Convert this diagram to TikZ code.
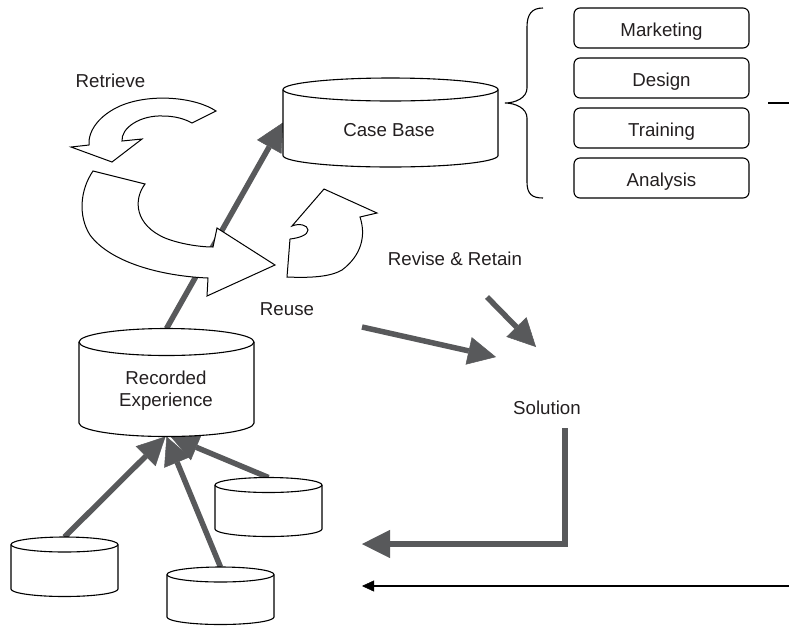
\documentclass[tikz,border=0pt]{standalone}
\usepackage{fontspec}
\setmainfont{Liberation Sans}
\usetikzlibrary{arrows.meta}
\definecolor{ink}{RGB}{88,89,91}
\definecolor{txt}{RGB}{35,31,32}

% invisible box spanning a cylinder from the top rim to the lowest point
\newcommand\cylnode[5]{% name, centre x, top y, bottom y, width
  \node[cylbox, minimum width={#5*1pt}, minimum height={(#4-#3)*1pt}] (#1) at (#2,{(#3+#4)/2}) {};}
% outline of a cylinder drawn over its box
\newcommand\cylshape[3]{% name, half width, ellipse half height
  \path[cylline] ([yshift=-#3pt]#1.north west) -- ([yshift=#3pt]#1.south west)
    arc[start angle=180, end angle=0, x radius=#2, y radius=#3]
    -- ([yshift=-#3pt]#1.north east)
    arc[start angle=0, end angle=-180, x radius=#2, y radius=#3] -- cycle;
  \draw[cylline, fill=none] ([yshift=-#3pt]#1.north west)
    arc[start angle=180, end angle=0, x radius=#2, y radius=#3];}

\begin{document}
\begin{tikzpicture}[x=1pt, y=-1pt,
  cylbox/.style={inner sep=0pt, outer sep=0pt, draw=none},
  cylline/.style={draw=black, line width=1.1pt, fill=white},
  lbl/.style={font=\fontsize{18.7}{22}\selectfont, text=txt, inner sep=0pt, anchor=base},
  tag/.style={draw=black, line width=1.1pt, rounded corners=6pt, minimum width=175pt,
    minimum height=40pt, inner sep=0pt, text height=16pt, text depth=0pt,
    font=\fontsize{18.7}{22}\selectfont, text=txt},
  flow/.style={draw=ink, line width=5.5pt, line join=miter,
    -{Triangle[length=28pt, width=28pt, line width=0.5pt]}},
  thin/.style={draw=black, line width=1.3pt, -{Triangle[length=12pt, width=11pt, line width=0.5pt]}},
  cyc/.style={draw=black, line width=1pt, fill=white, line join=miter}
]
\useasboundingbox (0,0) rectangle (789,625);

% stores
\cylnode{cb}{390.5}{78}{167}{215}
\cylnode{rec}{166.5}{328.5}{436.5}{175}
\cylnode{dbA}{64.5}{537}{596.5}{107}
\cylnode{dbB}{220.5}{567}{624.5}{107}
\cylnode{dbC}{268.5}{477.5}{536.5}{107}

% free ends of the flow arrows
\coordinate (reuseout) at (362,327);
\coordinate (solin) at (496,357);
\coordinate (revout) at (487,297);
\coordinate (revin) at (536,347);
\coordinate (solout) at (565,428);
\coordinate (recback) at (362,544);
\coordinate (feedR) at (789,586);
\coordinate (feedL) at (362,586);
\coordinate (dashL) at (768,103);
\coordinate (dashR) at (789,103);

% thick flows
\draw[flow] (rec.north) -- (cb.west);
\draw[flow] (dbA.north) -- ([xshift=-1pt]rec.south);
\draw[flow] (dbB.north) -- (rec.south);
\draw[flow] (dbC.north) -- ([xshift=4pt]rec.south);
\draw[flow] (reuseout) -- (solin);
\draw[flow] (revout) -- (revin);
\draw[flow] (solout) |- (recback);
\draw[thin] (feedR) -- (feedL);

% cylinders
\cylshape{cb}{107.5}{11.5}
\cylshape{rec}{87.5}{13.5}
\cylshape{dbA}{53.5}{7.5}
\cylshape{dbB}{53.5}{7.5}
\cylshape{dbC}{53.5}{7.5}

% cycle arrows
\path[cyc] (216,111) .. controls (195,97) and (150,93) .. (120,106)
  .. controls (100,115) and (88,130) .. (89,145) -- (71,147) -- (112,162) -- (142,139)
  -- (122,141) .. controls (121,128) and (140,115) .. (163,116)
  .. controls (175,116) and (185,119) .. (192,123) -- cycle;
\path[cyc] (93,171) -- (145,184) .. controls (133,200) and (135,225) .. (165,238)
  .. controls (180,244) and (200,247) .. (213,247) -- (217,228) -- (275,265) -- (207,296)
  -- (208,278) .. controls (160,276) and (110,262) .. (90,235)
  .. controls (78,216) and (80,190) .. (93,171) -- cycle;
\path[cyc] (287,277) -- (290,239) .. controls (299,238) and (308,235) .. (308,230)
  .. controls (308,225) and (299,223) .. (292,226) -- (324,189) -- (377,213) -- (360,217)
  .. controls (366,235) and (362,255) .. (342,270)
  .. controls (330,277) and (310,278) .. (287,277) -- cycle;

% application areas
\node[tag] (mkt) at (661.5,28) {Marketing};
\node[tag] (dsg) at (661.5,78) {Design};
\node[tag] (trn) at (661.5,128) {Training};
\node[tag] (ana) at (661.5,178) {Analysis};
\draw[line width=1.1pt] (543,8) .. controls (532,8) and (527,14) .. (527,27) -- (527,88)
  .. controls (527,98) and (515,103) .. (505,103)
  .. controls (515,103) and (527,108) .. (527,118) -- (527,182)
  .. controls (527,194) and (532,198) .. (543,198);
\draw[line width=1.1pt] (dashL) -- (dashR);

% labels
\node[lbl] (retrieve) at (110.5,87) {Retrieve};
\node[lbl] (cbtxt) at (389,136) {Case Base};
\node[lbl] (reuse) at (287,315) {Reuse};
\node[lbl] (revise) at (455,265) {Revise \& Retain};
\node[lbl] (solution) at (547,414) {Solution};
\node[lbl] (rectxt) at (166,384) {Recorded};
\node[lbl] (rectxtb) at (166,406) {Experience};
\end{tikzpicture}
\end{document}
